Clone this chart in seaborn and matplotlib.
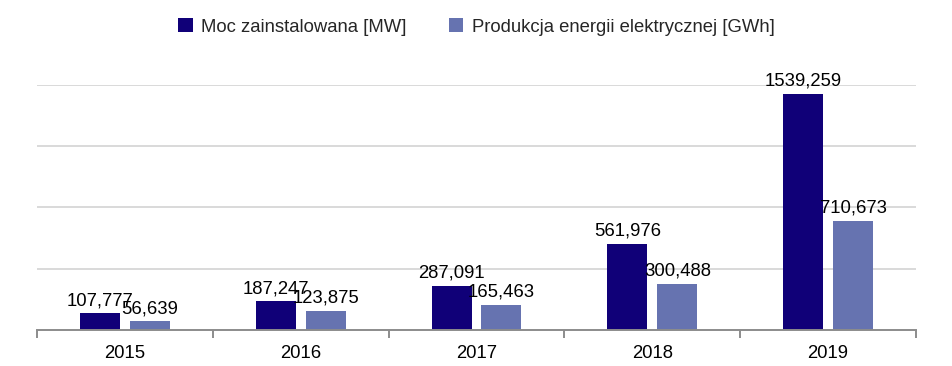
import matplotlib
matplotlib.use("Agg")
import matplotlib.pyplot as plt
import seaborn as sns
import pandas as pd
from matplotlib.ticker import FixedLocator, NullFormatter

years = ["2015", "2016", "2017", "2018", "2019"]
series_names = ["Moc zainstalowana [MW]", "Produkcja energii elektrycznej [GWh]"]
moc = [107.777, 187.247, 287.091, 561.976, 1539.259]
produkcja = [56.639, 123.875, 165.463, 300.488, 710.673]
moc_labels = ["107,777", "187,247", "287,091", "561,976", "1539,259"]
prod_labels = ["56,639", "123,875", "165,463", "300,488", "710,673"]
colors = ["#100078", "#6673B0"]

df = pd.DataFrame({
    "Rok": years * 2,
    "Seria": [series_names[0]] * len(years) + [series_names[1]] * len(years),
    "Wartosc": moc + produkcja,
})

sns.set_theme(style="white")
plt.rcParams["font.family"] = ["Liberation Sans", "DejaVu Sans"]

fig = plt.figure(figsize=(9.52, 3.66), dpi=100)
ax = fig.add_axes([37 / 952, 36 / 366, (916 - 37) / 952, (330 - 84.5) / 366])

sns.barplot(data=df, x="Rok", y="Wartosc", hue="Seria", palette=colors,
            width=0.568, gap=0.2, ax=ax, saturation=1, legend=True, linewidth=0)

ax.set_ylim(0, 1600)
ax.set_xlim(-0.5, len(years) - 0.5)
ax.set_yticks([400, 800, 1200, 1600])
ax.set_yticklabels([])
ax.tick_params(axis="y", length=0)
ax.grid(axis="y", color="#D9D9D9", linewidth=1.4)
ax.set_axisbelow(True)
for s in ["left", "right", "top"]:
    ax.spines[s].set_visible(False)
ax.spines["bottom"].set_color("#8C8C8C")
ax.spines["bottom"].set_linewidth(1.4)
ax.spines["bottom"].set_zorder(5)

ax.tick_params(axis="x", which="major", length=0, labelsize=13.3, pad=11, colors="black")
ax.xaxis.set_minor_locator(FixedLocator([i - 0.5 for i in range(len(years) + 1)]))
ax.xaxis.set_minor_formatter(NullFormatter())
ax.tick_params(axis="x", which="minor", length=6, width=1.4, color="#8C8C8C", direction="out", bottom=True)
ax.set_xlabel("")
ax.set_ylabel("")

for cont, labs in zip(ax.containers, [moc_labels, prod_labels]):
    ax.bar_label(cont, labels=labs, padding=3, fontsize=13.3, color="black")

handles, labels = ax.get_legend_handles_labels()
ax.legend(handles, labels, loc="center", bbox_to_anchor=(476.5 / 952, 1 - 27 / 366),
          bbox_transform=fig.transFigure, ncol=2, frameon=False, fontsize=13.3,
          handlelength=0.78, handleheight=0.78, handletextpad=0.45, columnspacing=2.3)

fig.savefig("out.png", dpi=100)
